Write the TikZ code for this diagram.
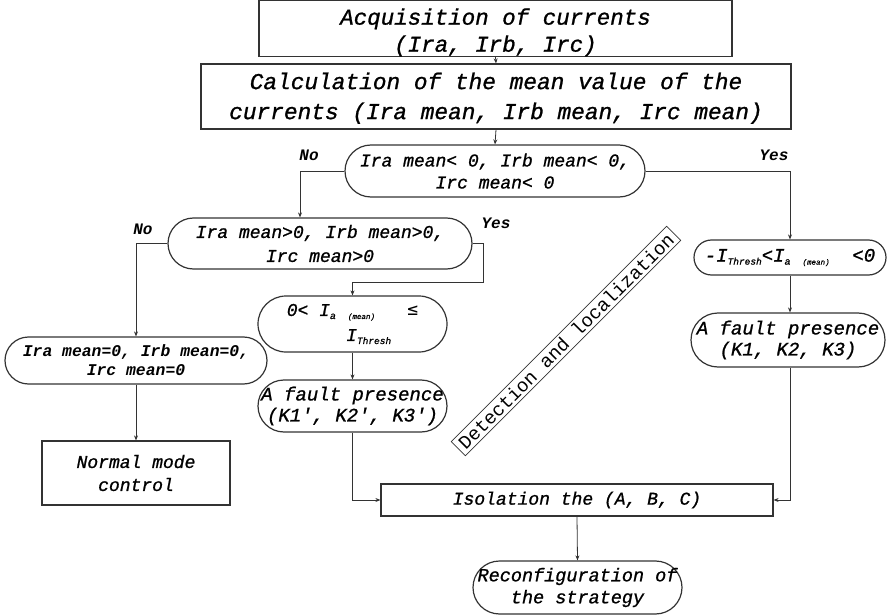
\documentclass[tikz,border=0pt]{standalone}
\usepackage{fontspec}
\setmainfont{Liberation Mono}
\newfontfamily\midmono[FakeBold=1]{Liberation Mono}
\newfontfamily\symfont{DejaVu Sans Mono}
\usetikzlibrary{arrows.meta,calc}
% a text line that takes no width, so the frame keeps its given size
\newcommand{\cl}[1]{\makebox[0pt]{#1}}
\newcommand{\lowsub}[2]{\raisebox{-3pt}{\fontsize{#1}{#1}\selectfont #2}}
\begin{document}
\begin{tikzpicture}[x=1pt,y=-1pt,
  ink/.style={draw=black!80, line width=1.2pt},
  box/.style={ink, rectangle, inner sep=0pt, align=center, text=black},
  pill/.style={box, rounded corners=#1},
  wire/.style={draw=black!80, line width=0.8pt},
  arr/.style={wire, -{Stealth[length=5pt,width=4pt]}},
  lbl/.style={font=\fontsize{16}{16}\selectfont\bfseries\itshape},
  med/.style 2 args={font=\fontsize{#1}{#2}\selectfont\midmono\itshape},
  hvy/.style 2 args={font=\fontsize{#1}{#2}\selectfont\bfseries\itshape}
]
\useasboundingbox (0,0) rectangle (887,615);

% --- boxes and decisions ---
\node[box, med={22.5}{27}, minimum width=473pt, minimum height=49pt] (acq) at (495.5,28.5)
  {\cl{\rule{0pt}{24pt}Acquisition of currents}\\\cl{(Ira, Irb, Irc)}};
\node[box, med={22.8}{30}, minimum width=590pt, minimum height=65pt] (calc) at (496,96.5)
  {\cl{\rule{0pt}{20pt}Calculation of the mean value of the}\\\cl{currents (Ira mean, Irb mean, Irc mean)}};
\node[pill=26pt, med={18}{22}, minimum width=300pt, minimum height=52pt] (neg) at (495,171)
  {\cl{Ira mean< 0, Irb mean< 0,}\\\cl{Irc mean< 0}};
\node[pill=25.5pt, med={18}{24}, minimum width=304pt, minimum height=51pt] (pos) at (320,243.5)
  {\cl{Ira mean>0, Irb mean>0,}\\\cl{Irc mean>0}};
\node[pill=17.5pt, med={19}{20}, minimum width=192pt, minimum height=35pt] (nthr) at (790,257.5)
  {\cl{-I\lowsub{9.5}{Thresh}<I\lowsub{10}{a\ \ \fontsize{7.5}{7.5}\selectfont(mean)}\ \ <0}};
\node[pill=27pt, med={19}{21}, minimum width=194pt, minimum height=54pt] (fr) at (788,340)
  {\cl{A fault presence}\\\cl{(K1, K2, K3)}};
\node[pill=28pt, med={18}{25}, minimum width=189pt, minimum height=56pt] (pthr) at (352.5,324)
  {\cl{0< I\lowsub{10}{a\ \ \fontsize{7.5}{7.5}\selectfont(mean)}\ \ \ {\symfont ≤}}\\\cl{\ \ \ I\lowsub{9.5}{Thresh}}};
\node[pill=26pt, med={19}{21}, minimum width=189pt, minimum height=52pt] (fl) at (352.5,406)
  {\cl{A fault presence}\\\cl{(K1', K2', K3')}};
\node[pill=23.5pt, hvy={16.4}{19}, minimum width=262pt, minimum height=47pt] (zero) at (136,360.5)
  {\cl{Ira mean=0, Irb mean=0,}\\\cl{Irc mean=0}};
\node[box, med={18}{23}, minimum width=188pt, minimum height=64pt] (normal) at (136,473)
  {\cl{Normal mode}\\\cl{control}};
\node[box, med={18}{22}, minimum width=392pt, minimum height=32pt] (iso) at (577,500)
  {\cl{Isolation the (A, B, C)}};
\node[pill=26.5pt, med={18.5}{22}, minimum width=209pt, minimum height=53pt] (reconf) at (577.5,587.5)
  {\cl{Reconfiguration of}\\\cl{the strategy}};

% --- rotated phase label ---
\node[draw=black!80, line width=0.7pt, rotate=45, inner xsep=4pt, inner ysep=3pt,
      font=\fontsize{19}{19}\selectfont] (phase) at (566,341) {Detection and localization};

% --- connectors ---
\draw[arr] (acq.south) -- (calc.north);
\draw[arr] (calc.south) -- (neg.north);
\draw[arr] (neg.west) -| ([xshift=-20pt]pos.north);
\draw[arr] (neg.east) -| (nthr.north);
\draw[arr] (pos.west) -| (zero.north);
\draw[arr] (pos.east) -- ++(11,0) |- ($(pthr.north)+(0,-13)$) -- (pthr.north);
\draw[arr] (nthr.south) -- (fr.north -| nthr.south);
\draw[arr] (pthr.south) -- (fl.north);
\draw[arr] (zero.south) -- (normal.north);
\draw[arr] (fl.south) |- (iso.west);
\draw[arr] (fr.south -| nthr.south) |- (iso.east);
\draw[arr] (iso.south) -- (reconf.north);

% --- branch labels ---
\node[lbl] (no1) at (309,155) {No};
\node[lbl] (no2) at (143,229) {No};
\node[lbl] (yes1) at (496,223) {Yes};
\node[lbl] (yes2) at (774,155) {Yes};
\end{tikzpicture}
\end{document}
